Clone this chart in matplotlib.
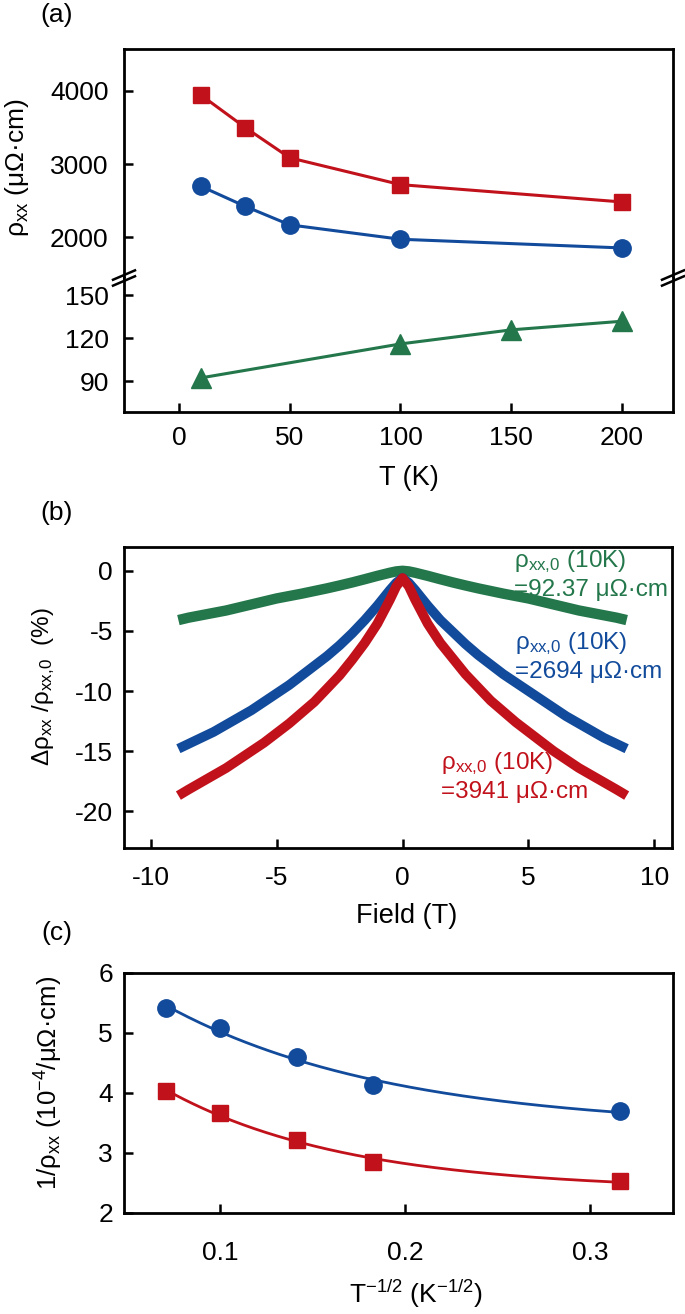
import numpy as np
import matplotlib.pyplot as plt

plt.rcParams['font.family'] = ['Liberation Sans', 'DejaVu Sans']
plt.rcParams['mathtext.fontset'] = 'custom'
plt.rcParams['mathtext.rm'] = 'Liberation Sans'
plt.rcParams['mathtext.it'] = 'Liberation Sans:italic'
plt.rcParams['axes.unicode_minus'] = False

RED = "#c1121c"
BLUE = "#124b9b"
GREEN = "#23774b"

# (a) resistivity vs temperature
temps = [10, 30, 50, 100, 200]
rho_red = [3941, 3497, 3085, 2718, 2481]
rho_blue = [2694, 2420, 2168, 1971, 1852]
temps_green = [10, 100, 150, 200]
rho_green = [92.37, 116.0, 125.8, 131.8]

# (b) magnetoresistance at 10 K
field = [-8.9, -8.5, -8, -7.5, -7, -6.5, -6, -5.5, -5, -4.5, -4, -3.5, -3,
         -2.5, -2, -1.5, -1, -0.5, -0.25, 0, 0.25, 0.5, 1, 1.5, 2, 2.5, 3,
         3.5, 4, 4.5, 5, 5.5, 6, 6.5, 7, 7.5, 8, 8.5, 8.9]
mr_green = [-4.1, -3.9, -3.7, -3.5, -3.3, -3.05, -2.8, -2.55, -2.3, -2.1, -1.9,
            -1.68, -1.46, -1.22, -0.97, -0.7, -0.42, -0.16, -0.05, 0.0, -0.05,
            -0.16, -0.42, -0.7, -0.97, -1.22, -1.46, -1.68, -1.9, -2.1, -2.3,
            -2.55, -2.8, -3.05, -3.3, -3.5, -3.7, -3.9, -4.1]
mr_blue = [-14.8, -14.4, -13.9, -13.4, -12.8, -12.2, -11.6, -10.9, -10.2, -9.5,
           -8.7, -7.9, -7.1, -6.2, -5.2, -4.1, -2.9, -1.6, -1.0, -0.6, -1.0,
           -1.6, -2.9, -4.1, -5.1, -6.1, -7.0, -7.8, -8.6, -9.3, -10.0, -10.7,
           -11.4, -12.1, -12.7, -13.3, -13.9, -14.4, -14.8]
mr_red = [-18.7, -18.2, -17.6, -17.0, -16.4, -15.7, -15.0, -14.3, -13.5, -12.7,
          -11.8, -10.9, -9.8, -8.7, -7.4, -6.0, -4.4, -2.4, -1.3, -0.6, -1.3,
          -2.4, -4.4, -6.0, -7.3, -8.6, -9.7, -10.8, -11.7, -12.6, -13.4,
          -14.2, -15.0, -15.7, -16.4, -17.0, -17.6, -18.2, -18.7]

# (c) conductivity vs T^-1/2
tinv = [0.0707, 0.1, 0.1414, 0.1826, 0.3162]
sig_blue = [5.42, 5.08, 4.60, 4.13, 3.70]
sig_red = [4.03, 3.66, 3.22, 2.85, 2.53]

W, H = 685, 1314
FS = 19


def rect(l, t, r, b):
    return [l / W, 1 - b / H, (r - l) / W, (b - t) / H]


def style(ax, xpad, ypad):
    for s in ax.spines.values():
        s.set_linewidth(2.0)
    ax.tick_params(direction='in', length=6.5, width=1.8, labelsize=FS,
                   top=False, right=False)
    ax.tick_params(axis='x', pad=xpad)
    ax.tick_params(axis='y', pad=ypad)


def exp_fit(x, y):
    # y = a + b*exp(-x/c), c picked by least squares over a grid
    x = np.asarray(x)
    y = np.asarray(y)
    best = None
    for c in np.linspace(0.01, 0.4, 400):
        A = np.column_stack([np.ones_like(x), np.exp(-x / c)])
        coef, *_ = np.linalg.lstsq(A, y, rcond=None)
        err = np.sum((A @ coef - y) ** 2)
        if best is None or err < best[0]:
            best = (err, c, coef)
    _, c, (a, b) = best
    return lambda t: a + b * np.exp(-t / c)


fig = plt.figure(figsize=(W / 100, H / 100), dpi=100)

# ---- panel (a), broken y axis
ax_t = fig.add_axes(rect(124, 49, 673, 278))
ax_l = fig.add_axes(rect(124, 278, 673, 412), sharex=ax_t)
style(ax_t, 10, 11)
style(ax_l, 10, 11)

ax_t.plot(temps, rho_red, '-s', color=RED, lw=2.2, ms=12)
ax_t.plot(temps, rho_blue, '-o', color=BLUE, lw=2.2, ms=12.5)
ax_l.plot(temps_green, rho_green, '-^', color=GREEN, lw=2.2, ms=14)

ax_t.set_ylim(1441, 4573)
ax_t.set_yticks([2000, 3000, 4000])
ax_l.set_ylim(68.6, 161.9)
ax_l.set_yticks([90, 120, 150])
ax_l.set_xlim(-24.8, 223)
ax_l.set_xticks([0, 50, 100, 150, 200])
ax_t.tick_params(axis='x', bottom=False, labelbottom=False)
ax_t.spines['bottom'].set_visible(False)
ax_l.spines['top'].set_visible(False)

# break marks "//" on both side spines
for xa in (0, 1):
    for dy in (-0.022, 0.022):
        ax_l.plot([xa - 0.02, xa + 0.02], [1 + dy - 0.035, 1 + dy + 0.035],
                  transform=ax_l.transAxes, color='k', lw=1.8, clip_on=False)

fig.text(17 / W, 1 - 168 / H, 'ρ$_\\mathregular{xx}$ (μΩ·cm)', rotation=90,
         ha='center', va='center', fontsize=FS)
fig.text(409 / W, 1 - 478 / H, 'T (K)', ha='center', va='center', fontsize=FS + 0.5)
fig.text(57 / W, 1 - 15 / H, '(a)', ha='center', va='center', fontsize=FS)

# ---- panel (b)
ax_b = fig.add_axes(rect(124, 547, 672, 848))
style(ax_b, 13, 8)
ax_b.plot(field, mr_green, color=GREEN, lw=7.5, solid_capstyle='butt')
ax_b.plot(field, mr_blue, color=BLUE, lw=7, solid_capstyle='butt')
ax_b.plot(field, mr_red, color=RED, lw=7, solid_capstyle='butt')
ax_b.set_xlim(-11.06, 10.7)
ax_b.set_ylim(-23.06, 1.98)
ax_b.set_xticks([-10, -5, 0, 5, 10])
ax_b.set_yticks([0, -5, -10, -15, -20])

labels = [(4.42, 0.78, -1.58, GREEN, '=92.37 μΩ·cm'),
          (4.46, -6.03, -8.39, BLUE, '=2694 μΩ·cm'),
          (1.52, -16.0, -18.4, RED, '=3941 μΩ·cm')]
for x, y1, y2, c, s in labels:
    ax_b.text(x, y1, 'ρ$_\\mathregular{xx{,}0}$ (10K)', color=c, fontsize=17.5,
              ha='left', va='center')
    ax_b.text(x, y2, s, color=c, fontsize=17.5, ha='left', va='center')

fig.text(44 / W, 1 - 687 / H, 'Δρ$_\\mathregular{xx}$ /ρ$_\\mathregular{xx{,}0}$  (%)',
         rotation=90, ha='center', va='center', fontsize=17.5)
fig.text(407 / W, 1 - 916 / H, 'Field (T)', ha='center', va='center', fontsize=FS + 0.5)
fig.text(57 / W, 1 - 513 / H, '(b)', ha='center', va='center', fontsize=FS)

# ---- panel (c)
ax_c = fig.add_axes(rect(124, 973, 673, 1213))
style(ax_c, 20, 8)
xs = np.linspace(min(tinv), max(tinv), 200)
for ys, c, m, ms in ((sig_blue, BLUE, 'o', 12.5), (sig_red, RED, 's', 12)):
    f = exp_fit(tinv, ys)
    ax_c.plot(xs, f(xs), color=c, lw=2.0)
    ax_c.plot(tinv, ys, m, color=c, ms=ms, ls='none')
ax_c.set_xlim(0.0482, 0.3446)
ax_c.set_ylim(2, 6)
ax_c.set_xticks([0.1, 0.2, 0.3])
ax_c.set_yticks([2, 3, 4, 5, 6])

fig.text(49 / W, 1 - 1083 / H, '1/ρ$_\\mathregular{xx}$ (10$^{\\mathregular{-4}}$/μΩ·cm)',
         rotation=90, ha='center', va='center', fontsize=18.5)
fig.text(416 / W, 1 - 1294 / H,
         'T$^{\\mathregular{-1/2}}$ (K$^{\\mathregular{-1/2}}$)',
         ha='center', va='center', fontsize=FS)
fig.text(57 / W, 1 - 933 / H, '(c)', ha='center', va='center', fontsize=FS)

fig.savefig('out.png', dpi=100)
